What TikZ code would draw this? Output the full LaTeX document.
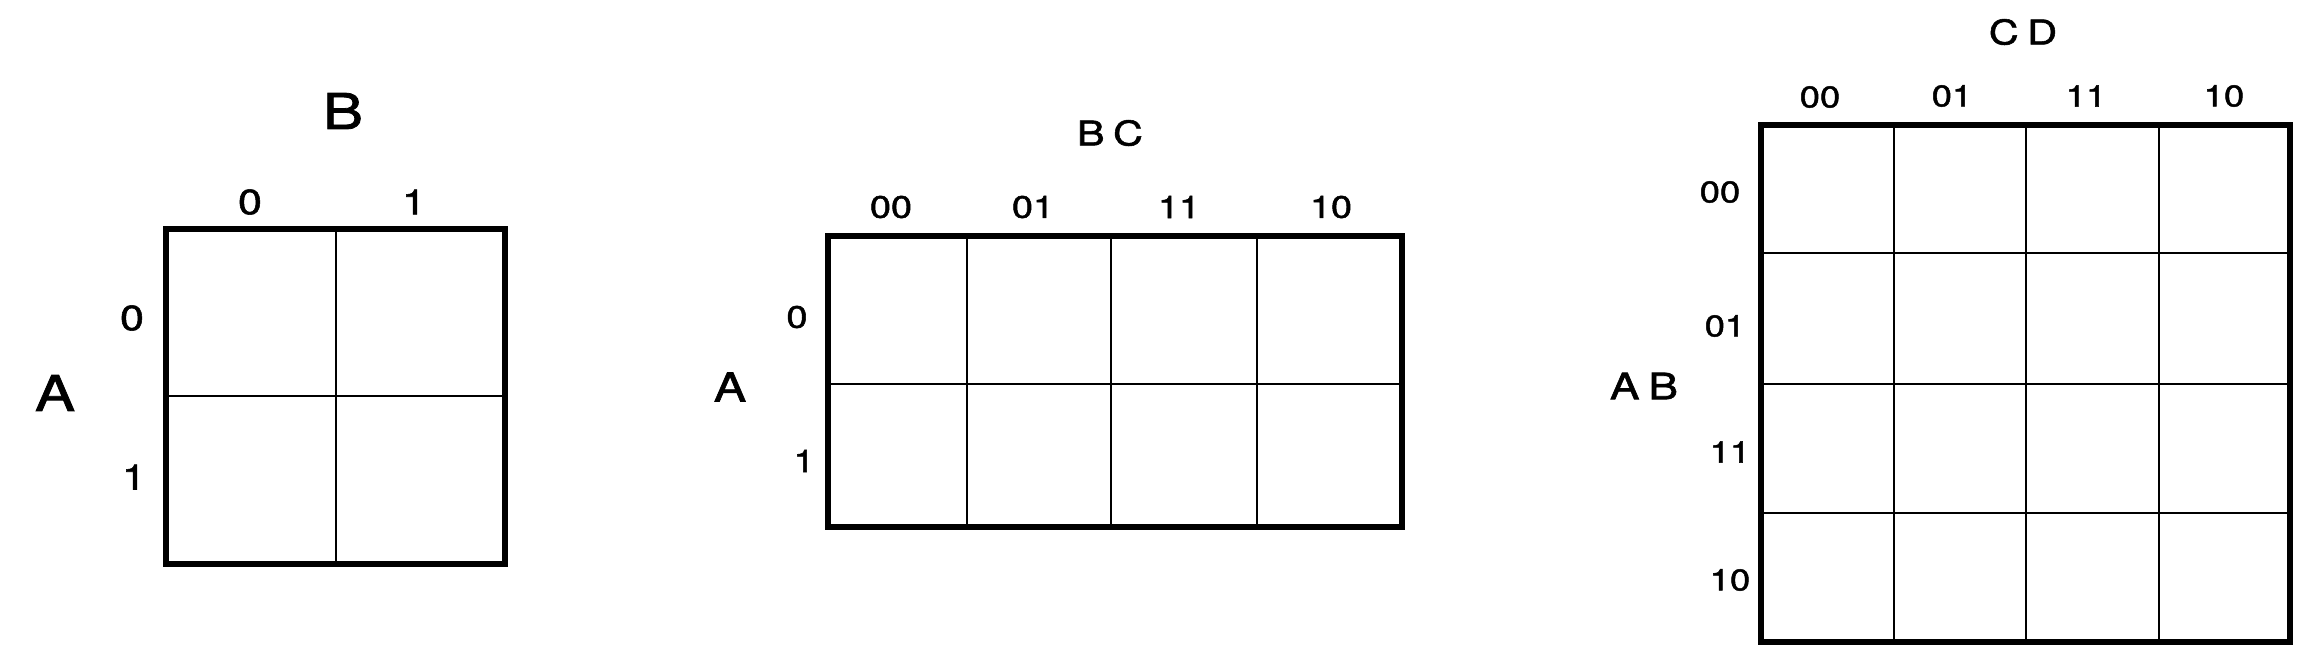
\documentclass[tikz,border=0pt]{standalone}
\usepackage{fontspec}
\setmainfont{TeX Gyre Heros}
\newfontfamily\kmfont{TeX Gyre Heros}[FakeStretch=1.22,FakeBold=1.6]
\begin{document}
\begin{tikzpicture}[x=0.03cm,y=-0.03cm,
  outer/.style={line width=4.5pt,line join=miter},
  inner/.style={line width=2.3pt},
  lbl/.style={inner sep=0pt,anchor=center},
  bigA/.style={lbl,font=\kmfont\fontsize{42}{42}\selectfont},
  digA/.style={lbl,font=\kmfont\fontsize{30}{30}\selectfont},
  bigB/.style={lbl,font=\kmfont\fontsize{29}{29}\selectfont},
  sideB/.style={lbl,font=\kmfont\fontsize{34}{34}\selectfont},
  digB/.style={lbl,font=\kmfont\fontsize{26.5}{26.5}\selectfont},
  bigC/.style={lbl,font=\kmfont\fontsize{29}{29}\selectfont},
  sideC/.style={lbl,font=\kmfont\fontsize{31}{31}\selectfont},
  digC/.style={lbl,font=\kmfont\fontsize{25.5}{25.5}\selectfont}]
\useasboundingbox[fill=white] (0,0) rectangle (2320,666);

% ---------- Map 1 : A / B ----------
\draw[inner] (336,229) -- (336,564);
\draw[inner] (166,396) -- (505,396);
\draw[outer] (166,229) rectangle (505,564);
\node[bigA] (m1B) at (343,111) {B};
\node[digA] (m1c0) at (250,202) {0};
\node[digA] (m1c1) at (414,202) {1};
\node[digA] (m1r0) at (132,318) {0};
\node[digA] (m1r1) at (134,477) {1};
\node[bigA] (m1A) at (55,393) {A};

% ---------- Map 2 : A / BC ----------
\foreach \x in {967,1111,1257} \draw[inner] (\x,236) -- (\x,527);
\draw[inner] (828,384) -- (1402,384);
\draw[outer] (828,236) rectangle (1402,527);
\node[bigB] (m2BC) at (1110,133) {B\hspace{0.25em}C};
\node[digB] (m2c00) at (891,207) {00};
\node[digB] (m2c01) at (1033,207) {01};
\node[digB] (m2c11) at (1179,207) {11};
\node[digB] (m2c10) at (1331,207) {10};
\node[digB] (m2r0) at (797,317) {0};
\node[digB] (m2r1) at (804,461) {1};
\node[sideB] (m2A) at (730,387) {A};

% ---------- Map 3 : AB / CD ----------
\foreach \x in {1894,2026,2159} \draw[inner] (\x,125) -- (\x,642);
\foreach \y in {253,384,513} \draw[inner] (1761,\y) -- (2290,\y);
\draw[outer] (1761,125) rectangle (2290,642);
\node[bigC] (m3CD) at (2023,32) {C\hspace{0.25em}D};
\node[digC] (m3c00) at (1820,97) {00};
\node[digC] (m3c01) at (1952,96) {01};
\node[digC] (m3c11) at (2086,96) {11};
\node[digC] (m3c10) at (2224,96) {10};
\node[digC] (m3r00) at (1720,192) {00};
\node[digC] (m3r01) at (1725,326) {01};
\node[digC] (m3r11) at (1730,452) {11};
\node[digC] (m3r10) at (1730,580) {10};
\node[sideC] (m3AB) at (1644,386) {A\hspace{0.25em}B};
\end{tikzpicture}
\end{document}
